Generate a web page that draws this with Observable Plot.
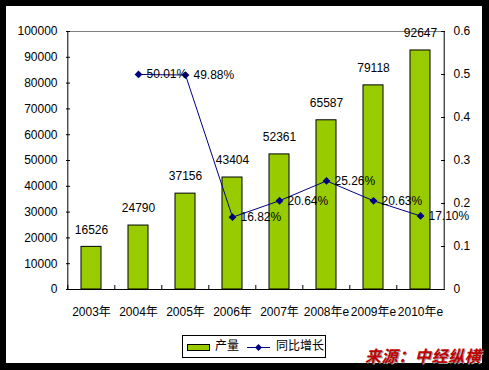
<!DOCTYPE html>
<html><head><meta charset="utf-8">
<script src="https://cdn.jsdelivr.net/npm/d3@7"></script>
<script src="https://cdn.jsdelivr.net/npm/@observablehq/plot@0.6"></script>
<style>
html,body{margin:0;padding:0;background:#000;width:489px;height:370px;overflow:hidden}
#wrap{position:relative;width:489px;height:370px}
#paper{position:absolute;left:6px;top:6px;width:476px;height:357px;background:#fff}
#chart{position:absolute;left:0;top:0}
#legend{position:absolute;left:182px;top:335px;width:144px;height:23px;box-sizing:border-box;border:1px solid #000;background:#fff;font:12px "Liberation Sans",Arial,"Noto Sans CJK SC",sans-serif;color:#000;white-space:nowrap}
#legend .sw{position:absolute;left:4px;top:8px;width:23px;height:7px;box-sizing:border-box;background:#99cc00;border:1px solid #000}
#legend .t1{position:absolute;left:32px;top:3px;line-height:14px}
#legend .ln{position:absolute;left:64px;top:11px;width:23px;height:1px;background:#000080}
#legend .dm{position:absolute;left:73px;top:9px;width:5px;height:5px;background:#000080;transform:rotate(45deg)}
#legend .t2{position:absolute;left:93px;top:3px;line-height:14px}
#source{position:absolute;left:365px;top:346px;font:italic bold 16px "Noto Sans CJK SC",sans-serif;line-height:18px;letter-spacing:0.6px;color:#c00000;text-shadow:1px 1px 0 #999;white-space:nowrap}
</style></head>
<body>
<div id="wrap">
  <div id="paper"></div>
  <div id="chart"></div>
  <div id="legend"><div class="sw"></div><div class="t1">产量</div><div class="ln"></div><div class="dm"></div><div class="t2">同比增长</div></div>
  <div id="source">来源：中经纵横</div>
</div>
<script>
const years = ["2003年","2004年","2005年","2006年","2007年","2008年e","2009年e","2010年e"];
const output = [16526, 24790, 37156, 43404, 52361, 65587, 79118, 92647];
const growthYears = ["2004年","2005年","2006年","2007年","2008年e","2009年e","2010年e"];
const growth = [0.5001, 0.4988, 0.1682, 0.2064, 0.2526, 0.2063, 0.1710];
const growthLabels = ["50.01%","49.88%","16.82%","20.64%","25.26%","20.63%","17.10%"];
const leftTicks = [0,10000,20000,30000,40000,50000,60000,70000,80000,90000,100000];
const rightTicks = [0,0.1,0.2,0.3,0.4,0.5,0.6];
const rightLabels = ["0","0.1","0.2","0.3","0.4","0.5","0.6"];

const W = 489, H = 370, mL = 66, mR = 44, mT = 31, mB = 81;
const plotW = W - mL - mR, plotH = H - mT - mB;
const step = plotW / years.length;
const k = 100000 / 0.6; // secondary axis mapping

const bars = years.map((c, i) => ({c, v: output[i]}));
const pts = growthYears.map((c, i) => ({c, v: growth[i] * k, label: growthLabels[i]}));
const rt = rightTicks.map((v, i) => ({y: v * k, label: rightLabels[i]}));

const chart = Plot.plot({
  width: W, height: H,
  marginLeft: mL, marginRight: mR, marginTop: mT, marginBottom: mB,
  style: {background: "transparent", fontFamily: '"Liberation Sans", Arial, "Noto Sans CJK SC", sans-serif', fontSize: "12px", color: "#000"},
  x: {domain: years, paddingInner: 0.58, paddingOuter: 0.29, label: null},
  y: {domain: [0, 100000], label: null},
  marks: [
    Plot.ruleY([100000], {stroke: "#808080"}),
    Plot.barY(bars, {x: "c", y: "v", fill: "#99cc00", stroke: "#000", strokeWidth: 1}),
    Plot.text(bars, {x: "c", y: "v", text: d => String(d.v), dy: -17, fill: "#000"}),
    Plot.ruleY([0], {stroke: "#000"}),
    Plot.ruleX([years[0]], {dx: -step / 2, stroke: "#000"}),
    Plot.ruleX([years[years.length - 1]], {dx: step / 2, stroke: "#000"}),
    Plot.tickX(years, {x: d => d, dx: -step / 2, insetTop: plotH - 4, stroke: "#000"}),
    Plot.tickY(leftTicks, {y: d => d, insetRight: plotW - 4, stroke: "#000"}),
    Plot.tickY(rt, {y: "y", insetLeft: plotW - 4, stroke: "#000"}),
    Plot.axisY({anchor: "left", label: null, ticks: leftTicks, tickSize: 0, tickPadding: 9, tickFormat: d => String(d)}),
    Plot.axisY({anchor: "right", label: null, ticks: rt.map(d => d.y), tickSize: 0, tickPadding: 8, tickFormat: (d, i) => rt[i].label}),
    Plot.axisX({anchor: "bottom", label: null, tickSize: 0, tickPadding: 18}),
    Plot.line(pts, {x: "c", y: "v", stroke: "#000080", strokeWidth: 1}),
    Plot.dot(pts, {x: "c", y: "v", symbol: "diamond2", r: 3.5, fill: "#000080", stroke: "none"}),
    Plot.text(pts, {x: "c", y: "v", text: "label", textAnchor: "start", dx: 8, fill: "#000"})
  ]
});
document.getElementById("chart").appendChild(chart);
</script>
</body></html>
